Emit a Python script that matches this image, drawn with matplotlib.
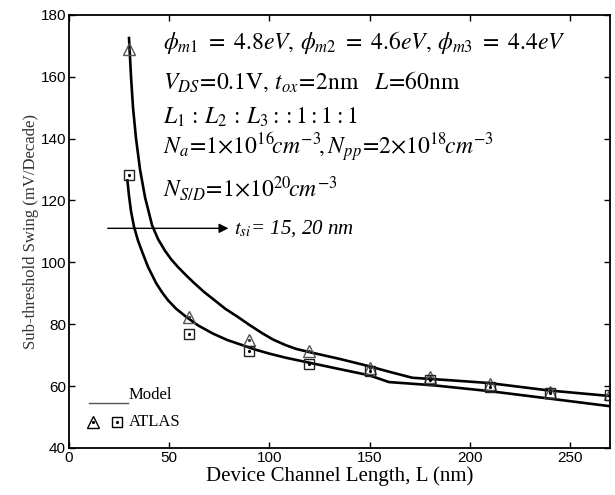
import numpy as np
import matplotlib
matplotlib.use('Agg')
import matplotlib.pyplot as plt

plt.rcParams['mathtext.fontset'] = 'stix'
plt.rcParams['font.family'] = ['Liberation Serif', 'DejaVu Serif']

# Model curves
L_up = [30, 31, 32, 33.5, 35.5, 38, 41.5, 44.5, 47.8, 51, 54.4, 58.5, 62.7, 67.5, 72.6, 78,
        84.2, 90, 96.7, 102, 108.3, 113.5, 119.9, 135, 148.1, 160, 171.3, 190, 209.5,
        239.3, 270]
S_up = [172.5, 160, 150, 140, 130, 121, 112, 107.5, 103.9, 101, 98.5, 95.8, 93.2, 90.4, 87.8, 85,
        82.4, 79.8, 77.0, 75.0, 73.2, 72.0, 71.0, 68.8, 66.7, 64.6, 62.7, 61.9, 61.0,
        58.6, 56.8]
L_lo = [29.2, 30, 31, 32.5, 34.5, 36.5, 39.5, 43.6, 46.5, 49.4, 53.5, 58.5, 64.5, 71.8, 79,
        86.7, 93, 100, 108, 118.2, 135, 149.8, 159.7, 181.2, 209.5, 239.3, 270]
S_lo = [126.5, 121.5, 116.5, 111.5, 107, 103.5, 98.5, 93.2, 90.3, 87.8, 85, 82.4, 79.6, 77.0, 74.9,
        73.2, 71.8, 70.5, 69.2, 67.8, 65.5, 63.5, 61.3, 60.3, 58.4, 56.0, 53.5]

# ATLAS points
L_pts = [30, 60, 90, 120, 150, 180, 210, 240, 270]
S_tri = [168.9, 82.4, 74.8, 71.2, 65.8, 62.9, 60.8, 58.0, 57.4]
S_sq = [128.2, 77.0, 71.4, 67.3, 65.0, 62.0, 59.6, 57.8, 57.2]

fig = plt.figure(figsize=(6.15, 4.95), dpi=100)
ax = fig.add_axes([0.112, 0.095, 0.880, 0.875])

ax.plot(L_up, S_up, color='black', lw=1.9)
ax.plot(L_lo, S_lo, color='black', lw=1.9)

ax.plot(L_pts, S_tri, ls='none', marker='^', ms=8, mfc='none', mec='#555555', mew=1.0)
ax.plot(L_pts, S_tri, ls='none', marker='.', ms=2.5, color='#333333')
ax.plot(L_pts, S_sq, ls='none', marker='s', ms=7, mfc='none', mec='#222222', mew=1.0)
ax.plot(L_pts, S_sq, ls='none', marker='.', ms=2.5, color='black')

ax.set_xlim(0, 270)
ax.set_ylim(40, 180)
ax.set_xticks([0, 50, 100, 150, 200, 250])
ax.set_yticks(np.arange(40, 181, 20))
ax.tick_params(direction='in', top=True, right=True, length=4, width=1.0,
               labelsize=11, pad=2)
for lab in ax.get_xticklabels() + ax.get_yticklabels():
    lab.set_family('Liberation Sans')
for sp in ax.spines.values():
    sp.set_linewidth(1.3)

ax.set_xlabel('Device Channel Length, L (nm)', fontsize=15, labelpad=1)
ax.set_ylabel('Sub-threshold Swing (mV/Decade)', fontsize=12, color='#333333', labelpad=1)

# annotation block
tx = 47
fs = 17
ax.text(tx, 171, r'$\phi_{m1}\ =\ 4.8eV,\,\phi_{m2}\ =\ 4.6eV,\,\phi_{m3}\ =\ 4.4eV$',
        fontsize=fs, va='center')
ax.text(tx, 158.3, r'$V_{DS}\!=\!0.1\mathrm{V},\,t_{ox}\!=\!2\mathrm{nm}\ \ \ L\!=\!60\mathrm{nm}$',
        fontsize=fs, va='center')
ax.text(tx, 147, r'$L_1\,:\,L_2\,:\,L_3::1:1:1$', fontsize=fs, va='center')
ax.text(tx, 137.3,
        r'$N_a\!=\!1{\times}10^{16}\!cm^{-3}\!,N_{pp}\!=\!2{\times}10^{18}\!cm^{-3}$',
        fontsize=fs, va='center')
ax.text(tx, 124, r'$N_{S/D}\!=\!1{\times}10^{20}\!cm^{-3}$', fontsize=fs, va='center')

ax.annotate('', xy=(81, 111), xytext=(18, 111),
            arrowprops=dict(arrowstyle='-|>', color='black', lw=1.0,
                            mutation_scale=14))
ax.text(82.5, 111, r'$t_{si}$= 15, 20 nm', fontsize=15, style='italic', va='center')

# legend drawn by hand
tr = ax.transAxes
ax.plot([0.037, 0.109], [0.104, 0.104], transform=tr, color='#555555', lw=1.0)
ax.text(0.111, 0.122, 'Model', transform=tr, fontsize=12, va='center')
ax.plot([0.045], [0.061], transform=tr, ls='none', marker='^', ms=8, mfc='none',
        mec='black', mew=1.0)
ax.plot([0.045], [0.061], transform=tr, ls='none', marker='.', ms=2.5, color='black')
ax.plot([0.088], [0.061], transform=tr, ls='none', marker='s', ms=7, mfc='none',
        mec='black', mew=1.0)
ax.plot([0.088], [0.061], transform=tr, ls='none', marker='.', ms=2.5, color='black')
ax.text(0.111, 0.061, 'ATLAS', transform=tr, fontsize=12, va='center')

fig.savefig('out.png', dpi=100)
